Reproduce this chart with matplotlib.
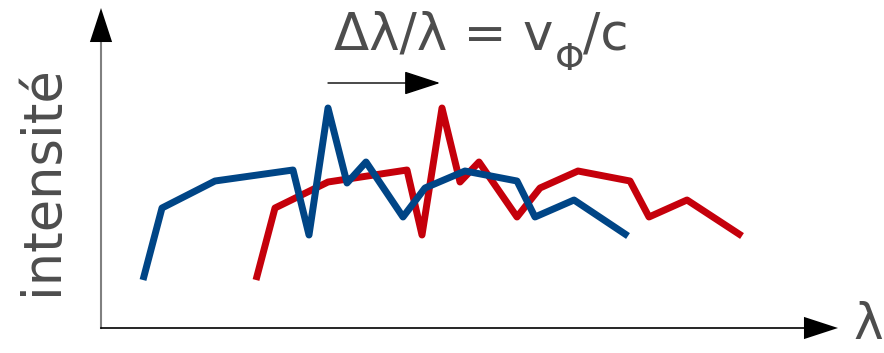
import matplotlib
matplotlib.use("Agg")
import matplotlib.pyplot as plt

# spectra (x = wavelength, y = intensity, arbitrary units)
blue_x = [42, 61, 114, 192, 208, 227, 246, 265, 302, 324, 364, 416, 434, 473, 527]
blue_y = [48, 120, 147, 158, 93, 220, 145, 166, 111, 140, 157, 147, 111, 128, 92]
red_x = [155, 174, 227, 306, 321, 341, 359, 378, 416, 439, 477, 529, 548, 586, 641]
red_y = [48, 120, 146, 158, 93, 220, 146, 166, 111, 140, 157, 147, 111, 128, 92]

BLUE = "#004586"
RED = "#c5000b"
TEXT = "#4d4d4d"

fig = plt.figure(figsize=(8.84, 3.53), dpi=100)
# axes origin sits at pixel (101, 328) of the 884x353 canvas
ax = fig.add_axes([101 / 884, (353 - 328) / 353, 737 / 884, 320 / 353])
ax.set_xlim(0, 737)
ax.set_ylim(0, 320)
ax.axis("off")

for xs, ys, col in [(red_x, red_y, RED), (blue_x, blue_y, BLUE)]:
    ax.plot(xs, ys, color=col, lw=5, solid_capstyle="butt",
            solid_joinstyle="round", clip_on=False)

# axes drawn as arrows
arrow = dict(arrowstyle="-|>,head_length=2.45,head_width=0.8",
             mutation_scale=10, color="black", shrinkA=0, shrinkB=0)
ax.plot([0, 0], [0, 295], color="#808080", lw=1.5, clip_on=False)
ax.annotate("", xy=(0, 1), xytext=(0, 0.85), xycoords="axes fraction",
            arrowprops=dict(arrow, lw=0))
ax.plot([0, 710], [0, 0], color="black", lw=1.2, clip_on=False)
ax.annotate("", xy=(1, 0), xytext=(0.9, 0), xycoords="axes fraction",
            arrowprops=dict(arrow, lw=0))

# shift arrow
ax.annotate("", xy=(339, 245), xytext=(227, 245),
            arrowprops=dict(arrowstyle="-|>,head_length=2.3,head_width=0.75",
                            mutation_scale=10, color="black", lw=1.0,
                            shrinkA=0, shrinkB=0))

# title  Δλ/λ = v_Φ/c  built from pieces so the subscript can drop low
base = 1 - 50 / 353
t1 = fig.text(334 / 884, base, "Δλ/λ = v", color=TEXT, fontsize=37,
              ha="left", va="baseline")
t2 = ax.annotate("Φ", xy=(1, 1 - 70 / 353), xycoords=(t1, "figure fraction"),
                 xytext=(1, 0), textcoords="offset points",
                 color=TEXT, fontsize=27, ha="left", va="baseline",
                 annotation_clip=False)
ax.annotate("/c", xy=(1, base), xycoords=(t2, "figure fraction"),
            xytext=(-1, 0), textcoords="offset points",
            color=TEXT, fontsize=37, ha="left", va="baseline",
            annotation_clip=False)

fig.text(42 / 884, 1 - 180 / 353, "intensité", color=TEXT, fontsize=38,
         rotation=90, ha="center", va="center")
fig.text(868 / 884, 1 - 325 / 353, "λ", color=TEXT, fontsize=36,
         ha="center", va="center")

fig.savefig("out.png", dpi=100)
